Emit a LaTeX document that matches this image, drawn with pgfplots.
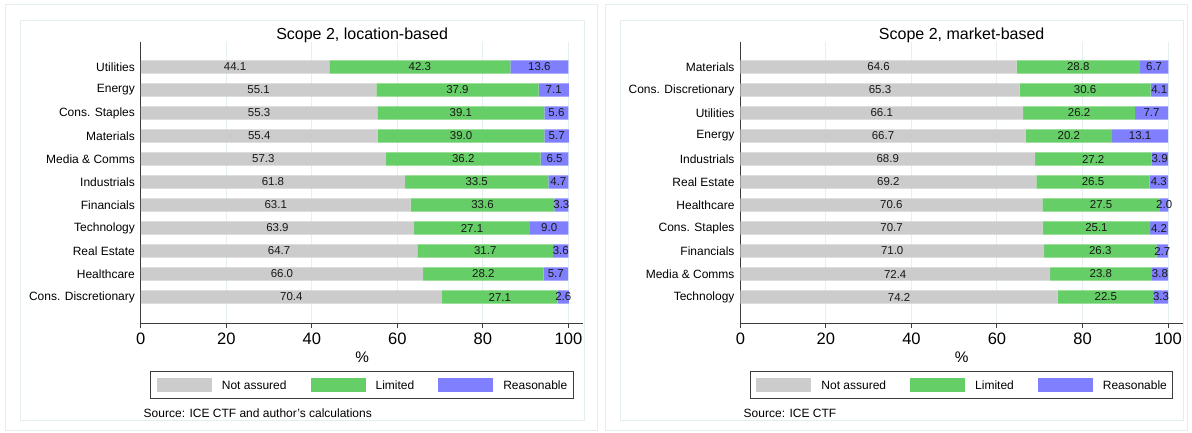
\documentclass[border=0pt]{standalone}
\usepackage{pgfplots}
\pgfplotsset{compat=1.18}
\usepackage{pgfplotstable}
\usepackage{fontspec}
\setmainfont{Liberation Sans}

\definecolor{notass}{RGB}{204,204,204}
\definecolor{limgreen}{RGB}{102,206,102}
\definecolor{reablue}{RGB}{128,128,255}
\definecolor{framec}{RGB}{228,237,239}
\definecolor{gridc}{RGB}{230,239,241}
\definecolor{axc}{RGB}{60,60,60}

% location-based, top to bottom
\pgfplotstableread{
na   lim  rea
44.1 42.3 13.6
55.1 37.9 7.1
55.3 39.1 5.6
55.4 39.0 5.7
57.3 36.2 6.5
61.8 33.5 4.7
63.1 33.6 3.3
63.9 27.1 9.0
64.7 31.7 3.6
66.0 28.2 5.7
70.4 27.1 2.6
}\loctab

% market-based, top to bottom
\pgfplotstableread{
na   lim  rea
64.6 28.8 6.7
65.3 30.6 4.1
66.1 26.2 7.7
66.7 20.2 13.1
68.9 27.2 3.9
69.2 26.5 4.3
70.6 27.5 2.0
70.7 25.1 4.2
71.0 26.3 2.7
72.4 23.8 3.8
74.2 22.5 3.3
}\mkttab

\pgfplotsset{
  seg/.style={
    fill=#1, draw=none,
  },
  scopechart/.style={
    xbar stacked,
    scale only axis,
    width=331.95pt, height=210.75pt,
    anchor=south west,
    xmin=0, xmax=103.5,
    ymin=-1.087, ymax=11.13,
    y dir=reverse,
    bar width=10pt,
    point meta=explicit symbolic,
    nodes near coords={\pgfplotspointmeta},
    every node near coord/.append style={anchor=center, text=black!90,
      font=\fontsize{8.6}{10}\selectfont},
    axis x line*=bottom, axis y line*=left,
    axis line style={draw=axc, line width=0.75pt},
    xtick={0,20,...,100},
    ytick={0,...,10},
    /pgf/number format/assume math mode=true,
    xmajorgrids,
    major grid style={draw=gridc, line width=0.75pt},
    tick align=outside,
    major tick length=3.75pt,
    xtick style={draw=axc, line width=0.75pt},
    ytick style={draw=none},
    xticklabel style={font=\fontsize{12.4}{14}\selectfont, text=black},
    yticklabel style={font=\fontsize{9}{11}\selectfont, text=black, anchor=east, inner sep=0pt, xshift=-0.5pt},
    title style={font=\fontsize{12}{14}\selectfont, at={(axis description cs:0.5,1)}, anchor=base, yshift=-4.3pt, inner sep=0pt},
    xlabel={\%},
    xlabel style={font=\fontsize{11.5}{14}\selectfont, at={(axis description cs:0.5,0)}, anchor=base, yshift=-29.5pt, inner sep=0pt},
    legend columns=3,
    legend image code/.code={\fill[##1] (0pt,-5.5pt) rectangle (41.25pt,5.5pt);},
    legend style={at={(axis description cs:0.5,0)}, anchor=center, yshift=-46.5pt,
      draw=axc, line width=0.8pt, inner xsep=4.5pt, inner ysep=4.6pt,
      font=\fontsize{9}{11}\selectfont,
      nodes={inner sep=0pt, text depth=0pt},
      /tikz/every odd column/.style={column sep=7.5pt},
      /tikz/every even column/.style={column sep=18pt}},
  },
}

\begin{document}
\begin{tikzpicture}
\useasboundingbox (0pt,0pt) rectangle (894pt,324pt);
% panel frames
\draw[framec, line width=0.75pt] (3.75pt,1.5pt) rectangle (447.75pt,320.25pt);
\draw[framec, line width=0.75pt] (15pt,9pt) rectangle (438pt,308.25pt);
\draw[framec, line width=0.75pt] (453.75pt,1.5pt) rectangle (890.25pt,320.25pt);
\draw[framec, line width=0.75pt] (465pt,9pt) rectangle (887.25pt,308.25pt);

\begin{axis}[scopechart, at={(105.6pt,81.75pt)},
  title={Scope 2, location-based},
  yticklabels={Utilities, Energy, Cons. Staples, Materials, Media \& Comms, Industrials, Financials, Technology, Real Estate, Healthcare, Cons. Discretionary}]
\addplot[seg=notass] table[x=na, y expr=\coordindex, meta=na] {\loctab};
\addplot[seg=limgreen] table[x=lim, y expr=\coordindex, meta=lim] {\loctab};
\addplot[seg=reablue] table[x=rea, y expr=\coordindex, meta=rea] {\loctab};
\legend{Not assured, Limited, Reasonable}
\end{axis}

\begin{axis}[scopechart, at={(555.3pt,81.75pt)},
  title={Scope 2, market-based},
  yticklabels={Materials, Cons. Discretionary, Utilities, Energy, Industrials, Real Estate, Healthcare, Cons. Staples, Financials, Media \& Comms, Technology}]
\addplot[seg=notass] table[x=na, y expr=\coordindex, meta=na] {\mkttab};
\addplot[seg=limgreen] table[x=lim, y expr=\coordindex, meta=lim] {\mkttab};
\addplot[seg=reablue] table[x=rea, y expr=\coordindex, meta=rea] {\mkttab};
\legend{Not assured, Limited, Reasonable}
\end{axis}

\node[anchor=base west, inner sep=0pt, font=\fontsize{9}{11}\selectfont] at (107.6pt,11.25pt) {Source: ICE CTF and author's calculations};
\node[anchor=base west, inner sep=0pt, font=\fontsize{9}{11}\selectfont] at (557.6pt,11.25pt) {Source: ICE CTF};
\end{tikzpicture}
\end{document}
